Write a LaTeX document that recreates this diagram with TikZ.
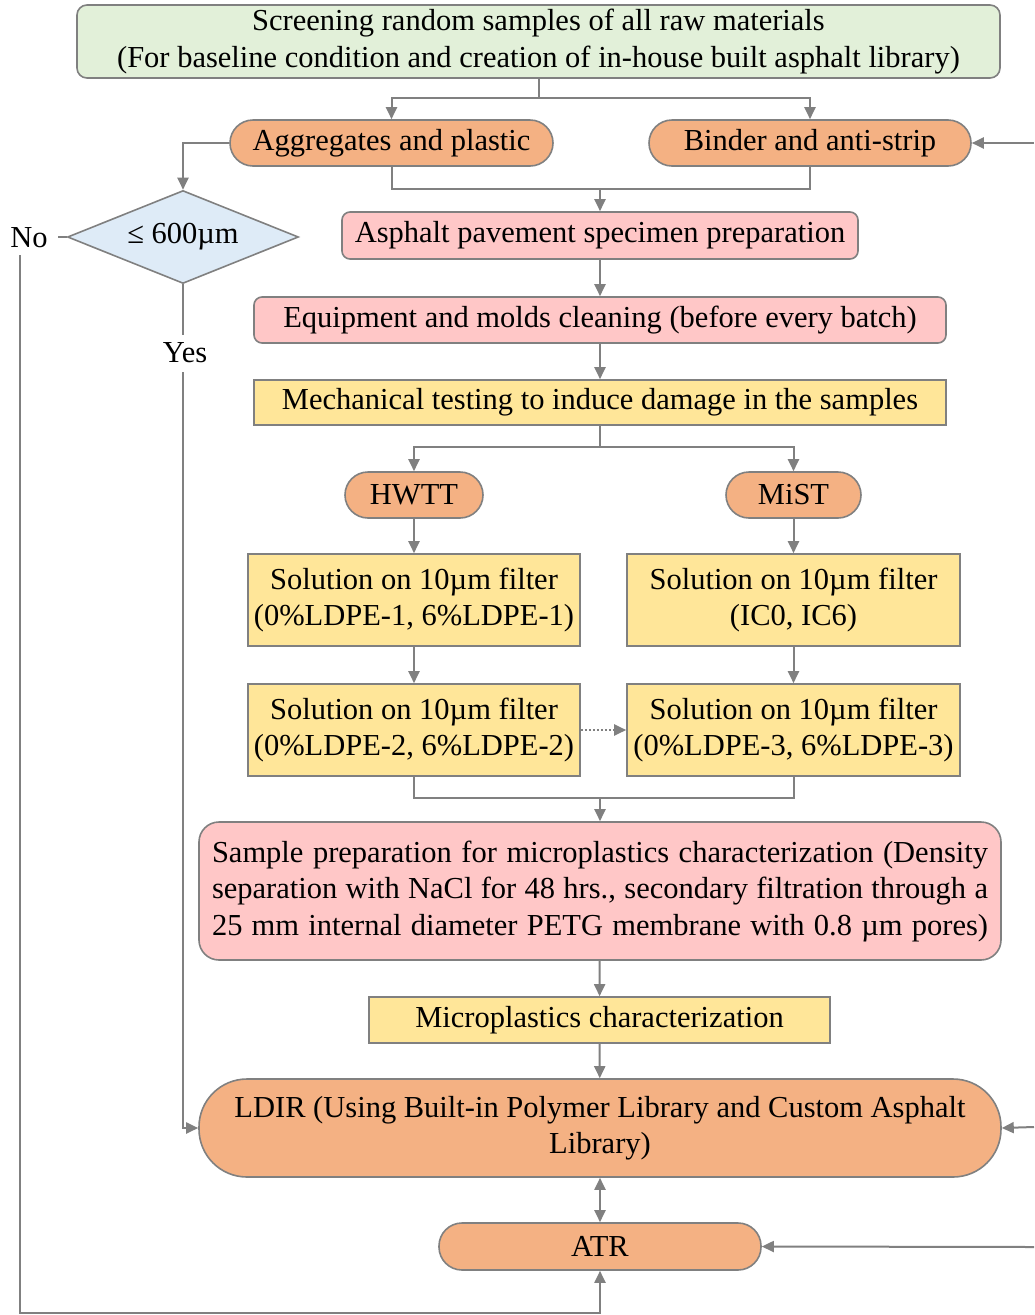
\documentclass[tikz,border=0pt]{standalone}
\usepackage{fontspec}
\setmainfont{Liberation Serif}
\usetikzlibrary{arrows.meta,shapes.geometric}
\definecolor{lgray}{HTML}{808080}
\definecolor{greenfill}{HTML}{E2F0D9}
\definecolor{pinkfill}{HTML}{FFC7C7}
\definecolor{orangefill}{HTML}{F4B183}
\definecolor{yellowfill}{HTML}{FFE699}
\definecolor{bluefill}{HTML}{DEEBF7}
\tikzset{
  base/.style={draw=lgray, line width=1.6pt, inner sep=0pt, align=center,
    font=\fontsize{30.5}{36.5}\selectfont, text=black},
  greenbox/.style={base, fill=greenfill, rounded corners=10pt},
  pinkbox/.style={base, fill=pinkfill, rounded corners=8pt},
  yellowbox/.style={base, fill=yellowfill},
  stadium/.style={base, fill=orangefill, rounded corners=23pt},
  decision/.style={base, shape=diamond, aspect=2.48, fill=bluefill},
  lbl/.style={inner sep=0pt, font=\fontsize{30.5}{36.5}\selectfont},
  conn/.style={draw=lgray, line width=2pt},
  arr/.style={conn, -{Triangle[length=12pt,width=11pt]}},
  darr/.style={conn, {Triangle[length=12pt,width=11pt]}-{Triangle[length=12pt,width=11pt]}},
}
\begin{document}
\begin{tikzpicture}[x=1pt,y=-1pt]
\useasboundingbox (0,0) rectangle (1034,1315);

% nodes
\node[greenbox, minimum width=923pt, minimum height=73pt] (top) at (538.5,41.5)
  {Screening random samples of all raw materials\\(For baseline condition and creation of in-house built asphalt library)};
\node[stadium, minimum width=323pt, minimum height=46pt] (agg) at (391.5,143) {Aggregates and plastic};
\node[stadium, minimum width=322pt, minimum height=46pt] (bind) at (810,143) {Binder and anti-strip};
\node[decision, minimum width=231pt, minimum height=93pt] (dia) at (183,237) {≤ 600µm};
\node[pinkbox, minimum width=516pt, minimum height=47pt] (asp) at (600,235.5) {Asphalt pavement specimen preparation};
\node[pinkbox, minimum width=692pt, minimum height=46pt] (equip) at (600,320) {Equipment and molds cleaning (before every batch)};
\node[yellowbox, minimum width=692pt, minimum height=45pt] (mech) at (600,402.5) {Mechanical testing to induce damage in the samples};
\node[stadium, minimum width=138pt, minimum height=46pt] (hwtt) at (414,495) {HWTT};
\node[stadium, minimum width=135pt, minimum height=46pt] (mist) at (793.5,495) {MiST};
\node[yellowbox, minimum width=332pt, minimum height=92pt] (l1) at (414,600) {Solution on 10µm filter\\(0\%LDPE-1, 6\%LDPE-1)};
\node[yellowbox, minimum width=333pt, minimum height=92pt] (r1) at (793.5,600) {Solution on 10µm filter\\(IC0, IC6)};
\node[yellowbox, minimum width=332pt, minimum height=92pt] (l2) at (414,730) {Solution on 10µm filter\\(0\%LDPE-2, 6\%LDPE-2)};
\node[yellowbox, minimum width=333pt, minimum height=92pt] (r2) at (793.5,730) {Solution on 10µm filter\\(0\%LDPE-3, 6\%LDPE-3)};
\node[pinkbox, rounded corners=20pt, minimum width=802pt, minimum height=138pt] (samp) at (600,891)
  {\makebox[776pt][s]{Sample preparation for microplastics characterization (Density}\\
   \makebox[776pt][s]{separation with NaCl for 48 hrs., secondary filtration through a}\\
   \makebox[776pt][s]{25 mm internal diameter PETG membrane with 0.8 µm pores)}};
\node[yellowbox, minimum width=461pt, minimum height=46pt] (micro) at (599.5,1020) {Microplastics characterization};
\node[stadium, rounded corners=48pt, minimum width=802pt, minimum height=98pt] (ldir) at (600,1128)
  {LDIR (Using Built-in Polymer Library and Custom Asphalt\\Library)};
\node[stadium, minimum width=322pt, minimum height=47pt] (atr) at (600,1246.5) {ATR};
\node[lbl] (no) at (29,238) {No};
\node[lbl] (yes) at (185,353) {Yes};

% junction coordinates
\coordinate (j1) at (539,98);
\coordinate (j2) at (600,189);
\coordinate (j3) at (600,447);
\coordinate (j4) at (600,798);
\coordinate (rb) at (1034,143);
\coordinate (rl) at (1034,1127);
\coordinate (ra) at (1034,1247);
\coordinate (nl) at (20,1313);
\coordinate (yt) at (183,335);
\coordinate (yb) at (183,372);
\coordinate (nt) at (20,255);
\coordinate (ne) at (58,237);

% connectors
\draw[conn] (top.south -| j1) -- (j1);
\draw[arr] (j1) -| (agg.north);
\draw[arr] (j1) -| (bind.north);
\draw[conn] (agg.south) |- (j2) -| (bind.south);
\draw[arr] (j2) -- (asp.north);
\draw[arr] (agg.west) -| (dia.north);
\draw[arr] (rb) -- (bind.east);
\draw[arr] (asp) -- (equip);
\draw[arr] (equip) -- (mech);
\draw[conn] (mech.south) -- (j3);
\draw[arr] (j3) -| (hwtt.north);
\draw[arr] (j3) -| (mist.north);
\draw[arr] (hwtt) -- (l1);
\draw[arr] (mist) -- (r1);
\draw[arr] (l1) -- (l2);
\draw[arr] (r1) -- (r2);
\draw[arr, dotted] (l2) -- (r2);
\draw[conn] (l2.south) |- (j4) -| (r2.south);
\draw[arr] (j4) -- (samp.north);
\draw[arr] (samp) -- (micro);
\draw[arr] (micro) -- (ldir);
\draw[darr] (ldir) -- (atr);
\draw[arr] (rl) -- (ldir.east);
\draw[arr] (ra) -- (atr.east);
% yes branch
\draw[conn] (dia.south) -- (yt);
\draw[arr] (yb) |- (ldir.west);
% no branch
\draw[conn] (dia.west) -- (ne);
\draw[arr] (nt) -- (nl) -| (atr.south);
\end{tikzpicture}
\end{document}
